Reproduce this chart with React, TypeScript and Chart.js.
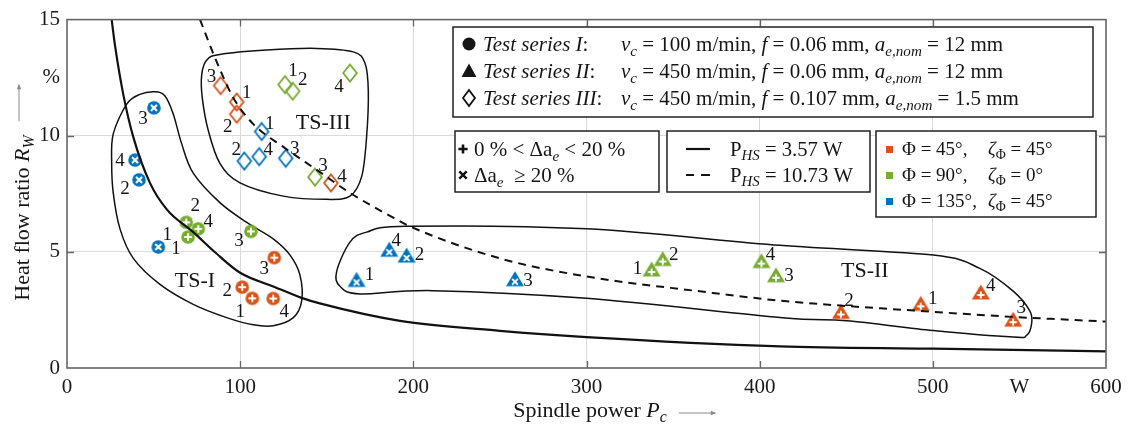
import React, { useEffect, useRef } from 'react';
import { Chart, registerables } from 'chart.js';

Chart.register(...registerables);

// ---------- axes ----------
const xTickValues = [0, 100, 200, 300, 400, 500, 550, 600];
const xTickLabels = ['0', '100', '200', '300', '400', '500', 'W', '600'];
const xGridValues = [100, 200, 300, 400, 500];
const yTickValues = [0, 5, 10, 12.5, 15];
const yTickLabels = ['0', '5', '10', '%', '15'];
const yGridValues = [5, 10];

// ---------- heat-flow curves ----------
const solidX = [25.8, 27.7, 32.5, 38.3, 47.9, 57.6, 72.9, 86, 100, 119.5, 135.5, 146, 192.3, 250, 300, 411.7, 500, 600];
const solidY = [15, 13.9, 11.78, 9.94, 7.97, 6.83, 5.85, 4.95, 4.1, 3.5, 3.02, 2.78, 2.03, 1.6, 1.33, 0.93, 0.83, 0.72];
const dashedX = [76.8, 86.4, 96, 107.6, 124.9, 144.2, 163.4, 186.5, 198, 250, 300, 365.5, 411.7, 500, 546.4, 600];
const dashedY = [15, 13.19, 11.64, 10.5, 9.52, 8.53, 7.54, 6.55, 6.1, 4.72, 3.94, 3.3, 2.9, 2.42, 2.2, 2.0];

// ---------- measured points (labels 1..4 in order) ----------
const pointLabels = ['1', '2', '3', '4'];

const ts1OrangeX = [107, 101.2, 119.7, 119.1];
const ts1OrangeY = [3.0, 3.48, 4.75, 2.99];
const ts1GreenX = [69.9, 68.9, 106.2, 75.8];
const ts1GreenY = [5.64, 6.27, 5.88, 5.99];
const ts1BlueX = [52.7, 41.6, 50.2, 39.3];
const ts1BlueY = [5.21, 8.1, 11.2, 8.95];

const ts2OrangeX = [493, 446.9, 546.4, 527.7];
const ts2OrangeY = [2.74, 2.39, 2.06, 3.23];
const ts2GreenX = [337.6, 344, 409.4, 401];
const ts2GreenY = [4.22, 4.67, 3.97, 4.58];
const ts2BlueX = [167.2, 196.1, 258.7, 186.1];
const ts2BlueY = [3.77, 4.82, 3.8, 5.07];

const ts3OrangeX = [98, 98, 88.7, 152.4];
const ts3OrangeY = [11.45, 10.93, 12.16, 7.97];
const ts3GreenX = [125.9, 130.3, 143.2, 163.4];
const ts3GreenY = [12.2, 11.92, 8.22, 12.7];
const ts3BlueX = [112.4, 102.4, 126.3, 111];
const ts3BlueY = [10.18, 8.91, 9.03, 9.1];

// ---------- test-series outlines ----------
const ts1BlobX = [50.8, 56.6, 61.4, 66.2, 72.9, 88.3, 103.8, 119.1, 128.8, 134.5, 135.5, 130.7, 119.1, 107.6, 92.2, 72.9, 53.7, 38.3, 30.6, 26.7, 25.8, 26.7, 34.5, 42.1];
const ts1BlobY = [11.89, 11.71, 10.93, 9.66, 8.39, 7.12, 6.27, 5.56, 4.86, 4.01, 2.88, 2.17, 1.82, 1.86, 2.17, 2.74, 3.6, 4.72, 5.99, 7.54, 8.81, 10.08, 11.36, 11.78];
const ts2BlobX = [155.7, 163.4, 173, 196.1, 300.1, 411.7, 500.2, 527.1, 546.4, 556, 557, 554.1, 546.4, 500.2, 450.2, 411.7, 300.1, 211.5, 169.2, 157.6];
const ts2BlobY = [4.15, 5.42, 5.85, 6.1, 5.99, 5.28, 4.86, 4.29, 3.31, 2.46, 1.89, 1.4, 1.33, 1.61, 2.03, 2.17, 3.0, 3.33, 3.19, 3.52];
const ts3BlobX = [77.8, 80.7, 88.3, 115.3, 144.2, 165.3, 172.1, 174, 173, 170.2, 163.4, 149.9, 124.9, 99.9, 88.3, 81.6, 78.1];
const ts3BlobY = [12.63, 13.26, 13.5, 13.69, 13.76, 13.61, 13.12, 11.92, 9.94, 8.25, 7.4, 7.26, 7.4, 7.97, 8.81, 10.22, 11.64];
const blobNames = ['TS-I', 'TS-II', 'TS-III'];
const blobLabelX = [73.9, 460.7, 148];
const blobLabelY = [3.8, 4.22, 10.58];

// ---------- styling / layout (not data) ----------
const ORANGE = '#D95319';
const GREEN = '#77AC30';
const BLUE = '#0072BD';
const FONT = '"Liberation Serif", "Times New Roman", serif';

// label offsets in px for points 1..4 of each series
const offTs1Orange = [[-12, 13], [-15, 3], [-10, 10], [11, 12]];
const offTs1Green = [[-12, 11], [9, -17], [-12, 9], [10, -8]];
const offTs1Blue = [[9, -13], [-14, 8], [-11, 10], [-15, 0]];
const offTs2Orange = [[12, -6], [8, -12], [8, -13], [10, -8]];
const offTs2Green = [[-14, -2], [11, -6], [13, -1], [9, -8]];
const offTs2Blue = [[13, -6], [13, -2], [13, 0], [7, -10]];
const offTs3Orange = [[10, -10], [-9, 12], [-9, -10], [11, -7]];
const offTs3Green = [[8, -15], [10, -12], [8, -12], [-11, 13]];
const offTs3Blue = [[8, -9], [-8, -12], [9, -10], [9, -8]];

type Run = { t: string; i?: boolean; sub?: boolean };

function runFont(r: Run, size: number) {
  const s = r.sub ? size * 0.72 : size;
  return `${r.i ? 'italic ' : ''}${s}px ${FONT}`;
}
function measureRuns(ctx: CanvasRenderingContext2D, runs: Run[], size: number) {
  let w = 0;
  for (const r of runs) {
    ctx.font = runFont(r, size);
    w += ctx.measureText(r.t).width;
  }
  return w;
}
function drawRuns(ctx: CanvasRenderingContext2D, runs: Run[], x: number, yc: number, size: number, align: 'left' | 'center' = 'left') {
  const w = measureRuns(ctx, runs, size);
  let cx = align === 'center' ? x - w / 2 : x;
  const base = yc + size * 0.33;
  ctx.textAlign = 'left';
  ctx.textBaseline = 'alphabetic';
  for (const r of runs) {
    ctx.font = runFont(r, size);
    ctx.fillText(r.t, cx, base + (r.sub ? size * 0.22 : 0));
    cx += ctx.measureText(r.t).width;
  }
  return w;
}
function fitSize(ctx: CanvasRenderingContext2D, runs: Run[], target: number) {
  return (20 * target) / measureRuns(ctx, runs, 20);
}

function drawCross(g: CanvasRenderingContext2D, cx: number, cy: number, cross: string, arm: number, color: string, lw: number) {
  g.strokeStyle = color;
  g.lineWidth = lw;
  g.lineCap = 'butt';
  g.beginPath();
  if (cross === '+') {
    g.moveTo(cx - arm, cy); g.lineTo(cx + arm, cy);
    g.moveTo(cx, cy - arm); g.lineTo(cx, cy + arm);
  } else {
    const a = arm * 0.8;
    g.moveTo(cx - a, cy - a); g.lineTo(cx + a, cy + a);
    g.moveTo(cx + a, cy - a); g.lineTo(cx - a, cy + a);
  }
  g.stroke();
}

function shapePath(g: CanvasRenderingContext2D, shape: string, cx: number, cy: number) {
  g.beginPath();
  if (shape === 'circle') {
    g.arc(cx, cy, 6.8, 0, Math.PI * 2);
  } else if (shape === 'triangle') {
    g.moveTo(cx, cy - 8.5);
    g.lineTo(cx + 9, cy + 6.5);
    g.lineTo(cx - 9, cy + 6.5);
    g.closePath();
  } else {
    g.moveTo(cx, cy - 8.5);
    g.lineTo(cx + 6.8, cy);
    g.lineTo(cx, cy + 8.5);
    g.lineTo(cx - 6.8, cy);
    g.closePath();
  }
}

function makeMarker(shape: string, color: string, cross: string) {
  const c = document.createElement('canvas');
  c.width = 22; c.height = 22;
  const g = c.getContext('2d')!;
  const cx = 11, cy = 11;
  shapePath(g, shape, cx, cy);
  if (shape === 'diamond') {
    g.strokeStyle = color;
    g.lineWidth = 1.8;
    g.stroke();
  } else {
    g.fillStyle = color;
    g.fill();
    if (shape === 'circle') drawCross(g, cx, cy, cross, 3.8, '#fff', 2);
    else drawCross(g, cx, cy + 2, cross, 3.6, '#fff', 2);
  }
  return c;
}

function closedSpline(ctx: CanvasRenderingContext2D, pts: number[][]) {
  const n = pts.length;
  ctx.beginPath();
  ctx.moveTo(pts[0][0], pts[0][1]);
  for (let i = 0; i < n; i++) {
    const p0 = pts[(i - 1 + n) % n], p1 = pts[i], p2 = pts[(i + 1) % n], p3 = pts[(i + 2) % n];
    ctx.bezierCurveTo(
      p1[0] + (p2[0] - p0[0]) / 6, p1[1] + (p2[1] - p0[1]) / 6,
      p2[0] - (p3[0] - p1[0]) / 6, p2[1] - (p3[1] - p1[1]) / 6,
      p2[0], p2[1]
    );
  }
  ctx.closePath();
}

function drawArrow(ctx: CanvasRenderingContext2D, x1: number, y1: number, x2: number, y2: number) {
  ctx.save();
  ctx.strokeStyle = '#8a8a8a';
  ctx.fillStyle = '#8a8a8a';
  ctx.lineWidth = 1;
  ctx.beginPath();
  ctx.moveTo(x1, y1); ctx.lineTo(x2, y2); ctx.stroke();
  const ang = Math.atan2(y2 - y1, x2 - x1);
  ctx.translate(x2, y2);
  ctx.rotate(ang);
  ctx.beginPath();
  ctx.moveTo(1.5, 0); ctx.lineTo(-4, -2.2); ctx.lineTo(-4, 2.2); ctx.closePath(); ctx.fill();
  ctx.restore();
}

export default function App() {
  const ref = useRef<HTMLCanvasElement>(null);

  useEffect(() => {
    const series = [
      { x: ts1OrangeX, y: ts1OrangeY, color: ORANGE, shape: 'circle', cross: '+', off: offTs1Orange },
      { x: ts1GreenX, y: ts1GreenY, color: GREEN, shape: 'circle', cross: '+', off: offTs1Green },
      { x: ts1BlueX, y: ts1BlueY, color: BLUE, shape: 'circle', cross: 'x', off: offTs1Blue },
      { x: ts2OrangeX, y: ts2OrangeY, color: ORANGE, shape: 'triangle', cross: '+', off: offTs2Orange },
      { x: ts2GreenX, y: ts2GreenY, color: GREEN, shape: 'triangle', cross: '+', off: offTs2Green },
      { x: ts2BlueX, y: ts2BlueY, color: BLUE, shape: 'triangle', cross: 'x', off: offTs2Blue },
      { x: ts3OrangeX, y: ts3OrangeY, color: ORANGE, shape: 'diamond', cross: '', off: offTs3Orange },
      { x: ts3GreenX, y: ts3GreenY, color: GREEN, shape: 'diamond', cross: '', off: offTs3Green },
      { x: ts3BlueX, y: ts3BlueY, color: BLUE, shape: 'diamond', cross: '', off: offTs3Blue },
    ];
    const blobs = [
      { x: ts1BlobX, y: ts1BlobY },
      { x: ts2BlobX, y: ts2BlobY },
      { x: ts3BlobX, y: ts3BlobY },
    ];

    const decor = {
      id: 'decor',
      beforeDatasetsDraw(chart: any) {
        const { ctx, chartArea: a, scales } = chart;
        const xs = scales.x, ys = scales.y;
        ctx.save();
        ctx.beginPath();
        ctx.rect(a.left, a.top, a.right - a.left, a.bottom - a.top);
        ctx.clip();
        ctx.strokeStyle = '#111';
        ctx.lineWidth = 1.5;
        for (const b of blobs) {
          const pts = b.x.map((v, i) => [xs.getPixelForValue(v), ys.getPixelForValue(b.y[i])]);
          closedSpline(ctx, pts);
          ctx.stroke();
        }
        ctx.restore();
      },
      afterDatasetsDraw(chart: any) {
        const { ctx, chartArea: a, scales } = chart;
        const xs = scales.x, ys = scales.y;
        ctx.save();
        ctx.fillStyle = '#151515';

        // point numbers
        ctx.font = `19px ${FONT}`;
        ctx.textAlign = 'center';
        ctx.textBaseline = 'middle';
        for (const s of series) {
          s.x.forEach((v, i) => {
            const px = xs.getPixelForValue(v), py = ys.getPixelForValue(s.y[i]);
            ctx.fillText(pointLabels[i], px + s.off[i][0], py + s.off[i][1] + 1);
          });
        }
        // TS names
        ctx.font = `22px ${FONT}`;
        blobNames.forEach((n, i) => {
          ctx.fillText(n, xs.getPixelForValue(blobLabelX[i]), ys.getPixelForValue(blobLabelY[i]) + 1);
        });

        // frame + inner ticks
        ctx.strokeStyle = '#666';
        ctx.lineWidth = 1.6;
        ctx.strokeRect(a.left, a.top, a.right - a.left, a.bottom - a.top);
        ctx.lineWidth = 1.3;
        ctx.beginPath();
        for (const v of xGridValues) {
          const px = Math.round(xs.getPixelForValue(v)) + 0.5;
          ctx.moveTo(px, a.bottom); ctx.lineTo(px, a.bottom - 7);
          ctx.moveTo(px, a.top); ctx.lineTo(px, a.top + 7);
        }
        for (const v of yGridValues) {
          const py = Math.round(ys.getPixelForValue(v)) + 0.5;
          ctx.moveTo(a.left, py); ctx.lineTo(a.left + 7, py);
          ctx.moveTo(a.right, py); ctx.lineTo(a.right - 7, py);
        }
        ctx.stroke();

        // legend boxes
        const box = (x: number, y: number, w: number, h: number) => {
          ctx.fillStyle = '#fff';
          ctx.fillRect(x, y, w, h);
          ctx.strokeStyle = '#222';
          ctx.lineWidth = 1.5;
          ctx.strokeRect(x, y, w, h);
          ctx.fillStyle = '#151515';
        };

        // Legend 1: test series
        box(453, 27, 640, 90);
        const l1Rows: { label: Run[]; math: Run[]; shape: string }[] = [
          { label: [{ t: 'Test series I', i: true }, { t: ':' }], math: [{ t: 'v', i: true }, { t: 'c', i: true, sub: true }, { t: ' = 100 m/min, ' }, { t: 'f', i: true }, { t: ' = 0.06 mm, ' }, { t: 'a', i: true }, { t: 'e,nom', i: true, sub: true }, { t: ' = 12 mm' }], shape: 'circle' },
          { label: [{ t: 'Test series II', i: true }, { t: ':' }], math: [{ t: 'v', i: true }, { t: 'c', i: true, sub: true }, { t: ' = 450 m/min, ' }, { t: 'f', i: true }, { t: ' = 0.06 mm, ' }, { t: 'a', i: true }, { t: 'e,nom', i: true, sub: true }, { t: ' = 12 mm' }], shape: 'triangle' },
          { label: [{ t: 'Test series III', i: true }, { t: ':' }], math: [{ t: 'v', i: true }, { t: 'c', i: true, sub: true }, { t: ' = 450 m/min, ' }, { t: 'f', i: true }, { t: ' = 0.107 mm, ' }, { t: 'a', i: true }, { t: 'e,nom', i: true, sub: true }, { t: ' = 1.5 mm' }], shape: 'diamond' },
        ];
        const l1Size = Math.min(21, fitSize(ctx, l1Rows[2].math, 462));
        const l1Y = [44, 71, 98];
        l1Rows.forEach((r, i) => {
          const cy = l1Y[i];
          ctx.save();
          ctx.translate(469, cy);
          ctx.beginPath();
          if (r.shape === 'circle') { ctx.arc(0, 0, 6.5, 0, Math.PI * 2); ctx.fill(); }
          else if (r.shape === 'triangle') { ctx.moveTo(0, -7.5); ctx.lineTo(7.5, 6); ctx.lineTo(-7.5, 6); ctx.closePath(); ctx.fill(); }
          else { ctx.moveTo(0, -8); ctx.lineTo(6, 0); ctx.lineTo(0, 8); ctx.lineTo(-6, 0); ctx.closePath(); ctx.strokeStyle = '#111'; ctx.lineWidth = 1.8; ctx.stroke(); }
          ctx.restore();
          const lw = drawRuns(ctx, r.label, 483, cy, l1Size);
          drawRuns(ctx, r.math, Math.max(621, 483 + lw + 3), cy, l1Size);
        });

        // Legend 2: +/x
        box(455, 131, 204, 61);
        const l2Rows: Run[][] = [
          [{ t: '0 % < Δa' }, { t: 'e', i: true, sub: true }, { t: ' < 20 %' }],
          [{ t: 'Δa' }, { t: 'e', i: true, sub: true }, { t: '  ≥ 20 %' }],
        ];
        const l2Size = Math.min(21, fitSize(ctx, l2Rows[0], 177));
        const l2Y = [149, 175];
        drawCross(ctx, 463, l2Y[0], '+', 4.6, '#111', 2.6);
        drawCross(ctx, 463, l2Y[1], 'x', 4.6, '#111', 2.4);
        l2Rows.forEach((r, i) => drawRuns(ctx, r, 474, l2Y[i], l2Size));

        // Legend 3: lines
        box(667, 131, 203, 61);
        const l3Rows: Run[][] = [
          [{ t: 'P' }, { t: 'HS', i: true, sub: true }, { t: ' = 3.57 W' }],
          [{ t: 'P' }, { t: 'HS', i: true, sub: true }, { t: ' = 10.73 W' }],
        ];
        const l3Size = Math.min(21, fitSize(ctx, l3Rows[1], 123));
        ctx.strokeStyle = '#111';
        ctx.lineWidth = 2.2;
        ctx.beginPath(); ctx.moveTo(686, 149); ctx.lineTo(710, 149); ctx.stroke();
        ctx.beginPath(); ctx.moveTo(686, 175); ctx.lineTo(694, 175); ctx.moveTo(701, 175); ctx.lineTo(710, 175); ctx.stroke();
        l3Rows.forEach((r, i) => drawRuns(ctx, r, 730, l2Y[i], l3Size));

        // Legend 4: colours
        box(876, 131, 220, 86);
        const l4A: Run[][] = [[{ t: 'Φ = 45°,' }], [{ t: 'Φ = 90°,' }], [{ t: 'Φ = 135°,' }]];
        const l4B: Run[][] = [
          [{ t: 'ζ', i: true }, { t: 'Φ', sub: true }, { t: ' = 45°' }],
          [{ t: 'ζ', i: true }, { t: 'Φ', sub: true }, { t: ' = 0°' }],
          [{ t: 'ζ', i: true }, { t: 'Φ', sub: true }, { t: ' = 45°' }],
        ];
        const l4Size = 19;
        const l4Y = [149, 175, 201];
        const l4C = [ORANGE, GREEN, BLUE];
        l4Y.forEach((cy, i) => {
          ctx.fillStyle = l4C[i];
          ctx.fillRect(886, cy - 3, 7, 7);
          ctx.fillStyle = '#151515';
          drawRuns(ctx, l4A[i], 902, cy, l4Size);
          drawRuns(ctx, l4B[i], 988, cy, l4Size);
        });

        // axis titles
        const yTitle: Run[] = [{ t: 'Heat flow ratio ' }, { t: 'R', i: true }, { t: 'W', i: true, sub: true }];
        const yts = Math.min(22, fitSize(ctx, yTitle, 227));
        ctx.save();
        ctx.translate(22, 218);
        ctx.rotate(-Math.PI / 2);
        const ytw = drawRuns(ctx, yTitle, 0, 0, yts, 'center');
        ctx.restore();
        const yTop = 218 - ytw / 2;
        drawArrow(ctx, 19, yTop - 14, 19, yTop - 50);

        const xTitle: Run[] = [{ t: 'Spindle power ' }, { t: 'P', i: true }, { t: 'c', i: true, sub: true }];
        const xts = Math.min(22, fitSize(ctx, xTitle, 174));
        const xtw = drawRuns(ctx, xTitle, 590, 410, xts, 'center');
        const xEnd = 590 + xtw / 2;
        drawArrow(ctx, xEnd + 12, 413, xEnd + 48, 413);

        ctx.restore();
      },
    };

    const datasets: any[] = [
      {
        type: 'line',
        data: solidX.map((v, i) => ({ x: v, y: solidY[i] })),
        borderColor: '#111',
        borderWidth: 2.2,
        pointRadius: 0,
        showLine: true,
        fill: false,
        cubicInterpolationMode: 'monotone',
      },
      {
        type: 'line',
        data: dashedX.map((v, i) => ({ x: v, y: dashedY[i] })),
        borderColor: '#111',
        borderWidth: 2,
        borderDash: [8, 6],
        pointRadius: 0,
        showLine: true,
        fill: false,
        cubicInterpolationMode: 'monotone',
      },
      ...series.map((s) => ({
        type: 'scatter',
        data: s.x.map((v, i) => ({ x: v, y: s.y[i] })),
        pointStyle: makeMarker(s.shape, s.color, s.cross),
        pointRadius: 8,
        showLine: false,
      })),
    ];

    const chart = new Chart(ref.current!, {
      type: 'scatter',
      data: { datasets },
      options: {
        animation: false,
        responsive: true,
        maintainAspectRatio: false,
        events: [],
        layout: { padding: { top: 14, right: 29, left: 0, bottom: 0 } },
        plugins: { legend: { display: false }, tooltip: { enabled: false } },
        scales: {
          x: {
            type: 'linear',
            min: 0,
            max: 600,
            afterBuildTicks: (axis: any) => { axis.ticks = xTickValues.map((v) => ({ value: v })); },
            afterFit: (axis: any) => { axis.height = 57; },
            ticks: {
              autoSkip: false,
              maxRotation: 0,
              padding: 7,
              color: '#1a1a1a',
              font: { family: FONT, size: 21 },
              callback: (v: any) => xTickLabels[xTickValues.indexOf(Number(v))] ?? '',
            },
            grid: {
              color: (c: any) => (xGridValues.includes(c.tick?.value) ? '#dadada' : 'rgba(0,0,0,0)'),
              lineWidth: 1,
              drawTicks: false,
            },
            border: { display: false },
          },
          y: {
            type: 'linear',
            min: 0,
            max: 15,
            afterBuildTicks: (axis: any) => { axis.ticks = yTickValues.map((v) => ({ value: v })); },
            afterFit: (axis: any) => { axis.width = 67; },
            ticks: {
              autoSkip: false,
              padding: 7,
              color: '#1a1a1a',
              font: { family: FONT, size: 21 },
              callback: (v: any) => yTickLabels[yTickValues.indexOf(Number(v))] ?? '',
            },
            grid: {
              color: (c: any) => (yGridValues.includes(c.tick?.value) ? '#dadada' : 'rgba(0,0,0,0)'),
              lineWidth: 1,
              drawTicks: false,
            },
            border: { display: false },
          },
        },
      },
      plugins: [decor],
    } as any);

    return () => chart.destroy();
  }, []);

  return (
    <div style={{ position: 'fixed', left: 0, top: 0, width: 1135, height: 425, background: '#fff' }}>
      <canvas ref={ref} />
    </div>
  );
}
